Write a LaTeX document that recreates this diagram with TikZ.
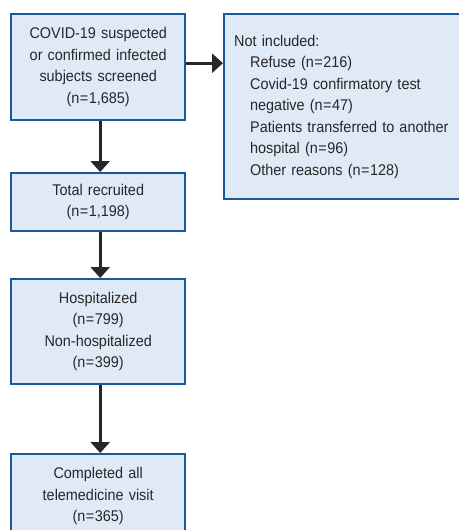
\documentclass[tikz,border=0pt]{standalone}
\usepackage{fontspec}
\setmainfont[FakeStretch=0.93]{Liberation Sans}
\usepackage{tikz}
\usetikzlibrary{arrows.meta,calc}

\definecolor{boxfill}{RGB}{223,234,246}
\definecolor{boxline}{RGB}{24,88,156}
\definecolor{inkgray}{RGB}{40,38,40}

\begin{document}
\begin{tikzpicture}[x=1pt,y=-1pt,
    box/.style={draw=boxline,fill=boxfill,line width=2.4pt,text=inkgray,
        inner sep=0pt,minimum width=174pt,text width=160pt,align=center,
        anchor=north west,font=\fontsize{15.5}{21.5}\selectfont},
    arr/.style={draw=inkgray,line width=2.7pt,-{Triangle[length=11pt,width=19pt]}}]
    \useasboundingbox (0,0) rectangle (458,530);
    % main column
    \node[box,minimum height=106pt] (screened) at (10,13)
        {COVID-19 suspected\\or confirmed infected\\subjects screened\\(n\kern.5pt=\kern.5pt1,685)};
    \node[box,minimum height=58pt] (recruited) at (10,172)
        {Total recruited\\(n\kern.5pt=\kern.5pt1,198)};
    \node[box,minimum height=105pt] (hospital) at (10,278)
        {Hospitalized\\(n\kern.5pt=\kern.5pt799)\\Non-hospitalized\\(n\kern.5pt=\kern.5pt399)};
    \node[box,minimum height=84pt] (completed) at (10,453)
        {Completed all\\telemedicine visit\\(n\kern.5pt=\kern.5pt365)};
    % side box
    \node[box,minimum width=250pt,minimum height=185pt,text width=230pt,
        align=left,inner xsep=10pt] (excluded) at (223,13)
        {Not included:\\
         \hspace*{16pt}Refuse (n\kern.5pt=\kern.5pt216)\\
         \hspace*{16pt}Covid-19 confirmatory test\\
         \hspace*{16pt}negative (n\kern.5pt=\kern.5pt47)\\
         \hspace*{16pt}Patients transferred to another\\
         \hspace*{16pt}hospital (n\kern.5pt=\kern.5pt96)\\
         \hspace*{16pt}Other reasons (n\kern.5pt=\kern.5pt128)};
    % connectors
    \draw[arr] ([xshift=2pt]screened.south) -- ([xshift=2pt]recruited.north);
    \draw[arr] ([xshift=2pt]recruited.south) -- ([xshift=2pt]hospital.north);
    \draw[arr] ([xshift=2pt]hospital.south) -- ([xshift=2pt]completed.north);
    \draw[arr] ([yshift=4pt]screened.east) -- ([yshift=4pt]screened.east -| excluded.west);
\end{tikzpicture}
\end{document}
